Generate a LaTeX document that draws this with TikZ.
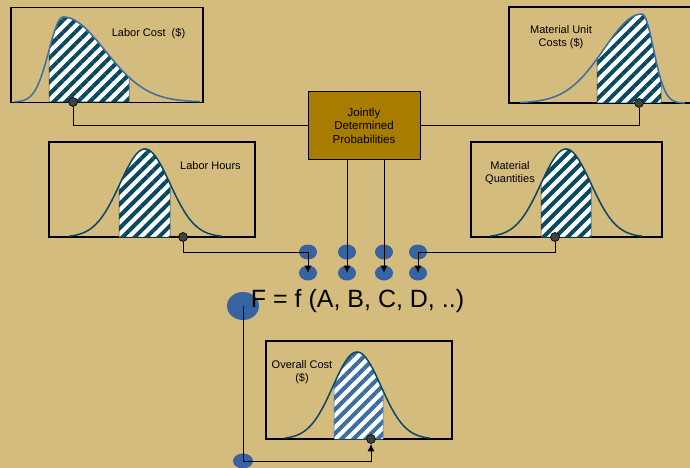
\documentclass[tikz,border=0pt]{standalone}
\usepackage{fontspec}
\setmainfont{Liberation Sans}
\usepackage{tikz}
\usetikzlibrary{shapes.geometric}
\usetikzlibrary{positioning}
\usetikzlibrary{arrows.meta}
\usetikzlibrary{patterns.meta}
\definecolor{tanbg}{RGB}{212,187,126}
\definecolor{gold}{RGB}{168,124,0}
\definecolor{dotblue}{RGB}{55,100,160}
\definecolor{curveblue}{RGB}{60,110,165}
\definecolor{curveteal}{RGB}{12,70,100}
\definecolor{hatchteal}{RGB}{10,72,95}
\definecolor{hatchblue}{RGB}{60,110,160}
\tikzset{panel/.style={draw,line width=1.5pt,inner sep=0pt},
  basedot/.style={circle,draw,fill=black!75,minimum size=9pt,inner sep=0pt,line width=0.6pt},
  blob/.style={ellipse,fill=dotblue,minimum width=18pt,minimum height=15pt,inner sep=0pt},
  hatch/.style={preaction={fill=white},pattern={Lines[angle=45,distance=8.5pt,line width=4pt]},pattern color=#1,draw=#1,line width=0.5pt},
  hatch/.default=hatchteal,
  lbl/.style={font=\fontsize{11}{13}\selectfont,align=center,inner sep=0pt},
  arr/.style={-{Latex[length=7.5pt,width=7pt]}},
  declare function={bell(\x,\m,\s)=exp(-0.5*((\x-\m)/\s)*((\x-\m)/\s));
    skew(\x,\m,\a,\b)=(\x<\m) ? bell(\x,\m,\a) : bell(\x,\m,\b);}}
\begin{document}
\begin{tikzpicture}[x=1pt,y=-1pt,line width=1pt]
\useasboundingbox[fill=tanbg] (0,0) rectangle (690,468);
\clip (0,0) rectangle (690,468);
% top panels
\node (laborcost) [panel,minimum width=192pt,minimum height=95pt] at (107,55) {};
\path[hatch] (49,102) -- plot[domain=49:129,samples=40] (\x,{102-85*skew(\x,63,14,42)}) -- (129,102) -- cycle;
\draw[curveblue,line width=1.5pt] plot[domain=15:200,samples=90] (\x,{102-85*skew(\x,63,14,42)});
\node (lclabel) [lbl] at (148.5,34) {Labor Cost~~(\$)};
\node (lcdot) [basedot] at (73,102) {};
\node (unitcost) [panel,minimum width=186pt,minimum height=96pt] at (602,55) {};
\path[hatch] (597,103) -- plot[domain=597:661,samples=40] (\x,{103-89*skew(\x,642,38,11.5)}) -- (661,103) -- cycle;
\draw[curveblue,line width=1.5pt] plot[domain=520:685,samples=90] (\x,{103-89*skew(\x,642,38,11.5)});
\node (uclabel) [lbl] at (561,37.5) {Material Unit\\Costs (\$)};
\node (ucdot) [basedot] at (639,103) {};
\node (joint) [panel,line width=1pt,fill=gold,minimum width=112pt,minimum height=67pt,
  font=\fontsize{11.5}{13.5}\selectfont,align=center] at (364,125.5) {Jointly\\Determined\\Probabilities};
% middle panels
\node (laborhrs) [panel,minimum width=206pt,minimum height=95pt] at (152,189.5) {};
\path[hatch] (119,237) -- plot[domain=119:170,samples=30] (\x,{237-88*bell(\x,145,25)}) -- (170,237) -- cycle;
\draw[curveteal,line width=1.5pt] plot[domain=69:222,samples=80] (\x,{237-88*bell(\x,145,25)});
\node (lhlabel) [lbl] at (210.5,165.5) {Labor Hours};
\node (lhdot) [basedot] at (183,237) {};
\node (matqty) [panel,minimum width=191pt,minimum height=95pt] at (566.5,189.5) {};
\path[hatch] (541,237) -- plot[domain=541:591,samples=30] (\x,{237-88*bell(\x,566,25)}) -- (591,237) -- cycle;
\draw[curveteal,line width=1.5pt] plot[domain=490:642,samples=80] (\x,{237-88*bell(\x,566,25)});
\node (mqlabel) [lbl] at (510,173) {Material\\Quantities};
\node (mqdot) [basedot] at (555,237) {};
% inputs and formula
\foreach \n/\x in {a/308,b/347,c/384,d/418} {
\node (\n1) [blob] at (\x,252) {};
\node (\n2) [blob] at (\x,273) {};
}
\node (fdot) [blob,minimum width=32pt,minimum height=28pt] at (243,306) {};
\node (bdot) [blob,minimum width=20pt,minimum height=15pt] at (243,461) {};
\node (formula) [anchor=base,font=\fontsize{25}{30}\selectfont,inner sep=0pt] at (357.5,307) {F = f (A, B, C, D, ..)};
% result panel
\node (overall) [panel,minimum width=186pt,minimum height=98pt] at (359,390) {};
\path[hatch=hatchblue] (334,439) -- plot[domain=334:383,samples=30] (\x,{439-87*bell(\x,357,24)}) -- (383,439) -- cycle;
\draw[curveteal,line width=1.5pt] plot[domain=285:430,samples=80] (\x,{439-87*bell(\x,357,24)});
\node (oclabel) [lbl] at (302,372) {Overall Cost\\(\$)};
\node (ocdot) [basedot] at (371,439) {};
% connectors
\draw (lcdot) |- (joint);
\draw (ucdot) |- (joint);
\draw[arr] (joint.south -| b1) -- (b2.center);
\draw[arr] (joint.south -| c1) -- (c2.center);
\draw[arr] (lhdot) |- (a1.center) -- (a2.center);
\draw[arr] (mqdot) |- (d1.center) -- (d2.center);
\draw[arr] (fdot.center) -- (bdot.center) -| (ocdot);
\end{tikzpicture}
\end{document}
